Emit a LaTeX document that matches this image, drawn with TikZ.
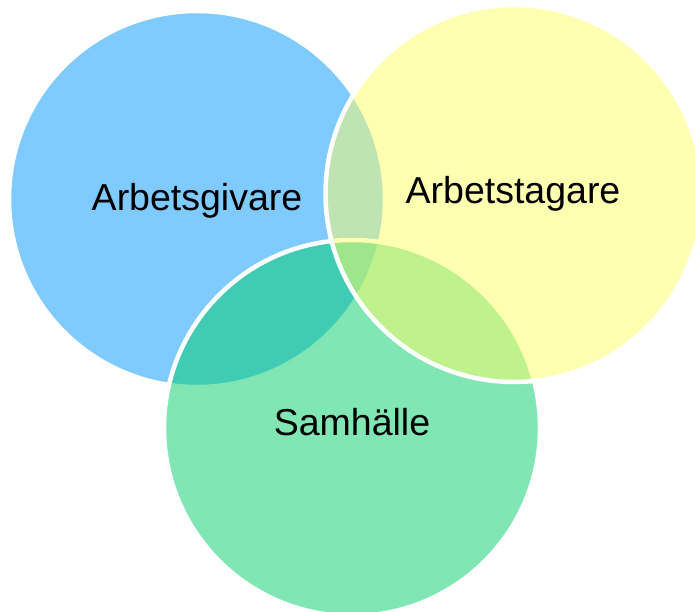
\documentclass[tikz,border=0pt]{standalone}
\usepackage{fontspec}
\setmainfont{Liberation Sans}
\definecolor{cblue}{RGB}{0,149,255}
\definecolor{cgreen}{RGB}{0,205,105}
\definecolor{cyellow}{RGB}{255,255,101}
\tikzset{
  venn/.style={fill=#1, fill opacity=0.5, draw=white, draw opacity=1, line width=4.5pt},
  lbl/.style={font=\fontsize{37.5}{42}\selectfont, text=black, anchor=base, inner sep=0pt}
}
\begin{document}
\begin{tikzpicture}[x=1pt,y=-1pt]
\useasboundingbox (0,0) rectangle (695,612);
\clip (0,0) rectangle (695,612);
\path[venn=cblue] (197,199) circle[radius=188];
\path[venn=cgreen] (352,428) circle[radius=188];
\path[venn=cyellow] (514,193.5) circle[radius=188.5];
\node[lbl] (giv) at (197,210.5) {Arbetsgivare};
\node[lbl] (tag) at (513,203.5) {Arbetstagare};
\node[lbl] (sam) at (352,435.5) {Samhälle};
\end{tikzpicture}
\end{document}
